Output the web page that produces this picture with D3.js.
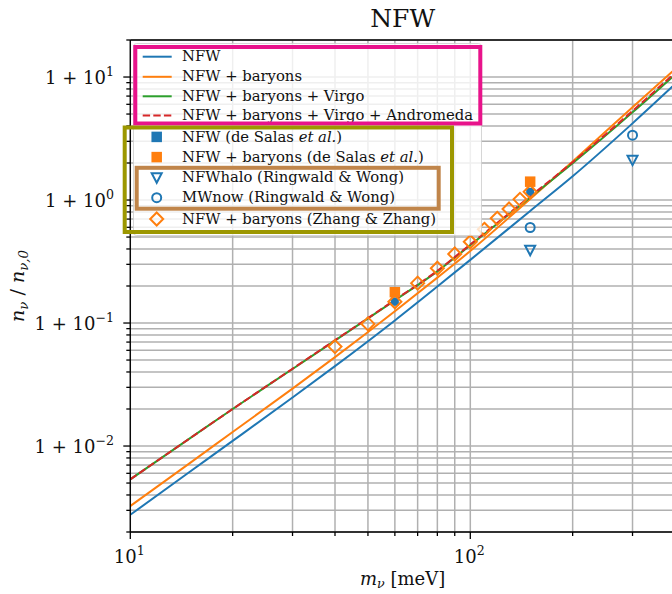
<!DOCTYPE html>
<html><head><meta charset="utf-8">
<script src="https://cdn.jsdelivr.net/npm/d3@7"></script>
<style>body{margin:0;background:#fff}svg{display:block}</style>
</head><body>
<svg id="c" width="672" height="594"></svg>
<script>
// ---------------- data ----------------
const xDomain = [10, 400];
const yDomain = [0.002, 20];
const massGrid = [10, 15, 20, 30, 40, 60, 80, 100, 150, 200, 300, 400];
const nfw = [0.00276, 0.0062, 0.0110, 0.0248, 0.0446, 0.105, 0.198, 0.326, 0.815, 1.56, 4.2, 8.75];
const nfwBaryons = [0.00325, 0.0073, 0.0130, 0.0293, 0.0528, 0.1246, 0.234, 0.385, 1.02, 2.06, 5.68, 11.6];
const nfwVirgo = [0.00536, 0.0116, 0.0200, 0.0423, 0.072, 0.153, 0.263, 0.43, 1.05, 1.99, 5.16, 10.45];
const nfwVirgoAndromeda = [0.00536, 0.0116, 0.0200, 0.0425, 0.0725, 0.154, 0.266, 0.435, 1.07, 2.03, 5.3, 10.8];

const deSalasMass = [60, 150];
const deSalasNFW = [0.149, 1.168];
const deSalasBaryons = [0.178, 1.41];
const ringwaldMass = [150, 300];
const ringwaldNFWhalo = [0.39, 2.11];
const ringwaldMWnow = [0.598, 3.37];
const zhangMass = [40, 50, 60, 70, 80, 90, 100, 110, 120, 130, 140, 150];
const zhangBaryons = [0.0643, 0.0984, 0.149, 0.211, 0.279, 0.364, 0.458, 0.578, 0.710, 0.845, 1.013, 1.168];

const xTickExponents = [1, 2];
const yTickExponents = [-2, -1, 0, 1];
const legendLabels = [
  ["NFW"], ["NFW + baryons"], ["NFW + baryons + Virgo"], ["NFW + baryons + Virgo + Andromeda"],
  ["NFW (de Salas ", "et al.", ")"], ["NFW + baryons (de Salas ", "et al.", ")"],
  ["NFWhalo (Ringwald & Wong)"], ["MWnow (Ringwald & Wong)"], ["NFW + baryons (Zhang & Zhang)"]
];
const title = "NFW";

// ---------------- layout ----------------
const C = {blue:"#1f77b4", orange:"#ff7f0e", green:"#2ca02c", red:"#d62728"};
const FONT = "'DejaVu Serif','Liberation Serif',serif";
const L = 130.3, T = 40, B = 532;
const R = L + 340 * Math.log10(xDomain[1] / xDomain[0]);
const svg = d3.select("#c");
const x = d3.scaleLog().domain(xDomain).range([L, R]);
const y = d3.scaleLog().domain(yDomain).range([B, T]);

// grid
const xt = x.ticks(), yt = y.ticks();
const grid = svg.append("g").attr("stroke", "#b0b0b0").attr("stroke-width", 1.5);
xt.forEach(v => grid.append("line").attr("x1", x(v)).attr("x2", x(v)).attr("y1", T).attr("y2", B));
yt.forEach(v => grid.append("line").attr("x1", L).attr("x2", R).attr("y1", y(v)).attr("y2", y(v)));

// clip
svg.append("clipPath").attr("id", "clip").append("rect").attr("x", L).attr("y", T).attr("width", R - L).attr("height", B - T);
const plot = svg.append("g").attr("clip-path", "url(#clip)");

const line = d3.line().x(d => x(d[0])).y(d => y(d[1])).curve(d3.curveMonotoneX);
const series = [
  {v: nfw, c: C.blue}, {v: nfwBaryons, c: C.orange},
  {v: nfwVirgo, c: C.green}, {v: nfwVirgoAndromeda, c: C.red, dash: "7.4,3.2"}
];
series.forEach(s => {
  plot.append("path").datum(massGrid.map((m, i) => [m, s.v[i]]))
    .attr("d", line).attr("fill", "none").attr("stroke", s.c).attr("stroke-width", 2)
    .attr("stroke-dasharray", s.dash || null);
});

// marker helpers
function square(g, cx, cy, s, col) {
  g.append("rect").attr("x", cx - s / 2).attr("y", cy - s / 2).attr("width", s).attr("height", s).attr("fill", col);
}
function tri(g, cx, cy, col) {
  g.append("path").attr("d", `M${cx},${cy + 5} L${cx - 5},${cy - 4.5} L${cx + 5},${cy - 4.5} Z`)
    .attr("fill", "none").attr("stroke", col).attr("stroke-width", 2);
}
function circ(g, cx, cy, col) {
  g.append("circle").attr("cx", cx).attr("cy", cy).attr("r", 4.5).attr("fill", "none").attr("stroke", col).attr("stroke-width", 2);
}
function diamond(g, cx, cy, col) {
  const h = 6.5;
  g.append("path").attr("d", `M${cx},${cy - h} L${cx + h},${cy} L${cx},${cy + h} L${cx - h},${cy} Z`)
    .attr("fill", "none").attr("stroke", col).attr("stroke-width", 2);
}
deSalasMass.forEach((m, i) => square(plot, x(m), y(deSalasBaryons[i]), 10.5, C.orange));
deSalasMass.forEach((m, i) => square(plot, x(m), y(deSalasNFW[i]), 8, C.blue));
zhangMass.forEach((m, i) => diamond(plot, x(m), y(zhangBaryons[i]), C.orange));
ringwaldMass.forEach((m, i) => tri(plot, x(m), y(ringwaldNFWhalo[i]), C.blue));
ringwaldMass.forEach((m, i) => circ(plot, x(m), y(ringwaldMWnow[i]), C.blue));

// spines
const ax = svg.append("g").attr("stroke", "#000").attr("stroke-width", 1.3);
ax.append("line").attr("x1", L).attr("x2", L).attr("y1", T).attr("y2", B);
ax.append("line").attr("x1", L).attr("x2", R).attr("y1", B).attr("y2", B);
ax.append("line").attr("x1", L).attr("x2", R).attr("y1", T).attr("y2", T);
ax.append("line").attr("x1", R).attr("x2", R).attr("y1", T).attr("y2", B);

const isMajor = v => Math.abs(Math.log10(v) - Math.round(Math.log10(v))) < 1e-9;
xt.forEach(v => { const len = isMajor(v) ? 7 : 4;
  ax.append("line").attr("x1", x(v)).attr("x2", x(v)).attr("y1", B).attr("y2", B + len); });
yt.forEach(v => { const len = isMajor(v) ? 7 : 4;
  ax.append("line").attr("x1", L).attr("x2", L - len).attr("y1", y(v)).attr("y2", y(v)); });

// tick labels
xTickExponents.forEach(e => {
  const t = svg.append("text").attr("x", x(Math.pow(10, e)) - 1).attr("y", 563).attr("text-anchor", "middle")
    .attr("font-family", FONT).attr("font-size", 18).attr("fill", "#111");
  t.append("tspan").text("10");
  t.append("tspan").attr("dy", -8).attr("font-size", 12.6).text(String(e).replace("-", "\u2212"));
});
yTickExponents.forEach(e => {
  const t = svg.append("text").attr("x", 114).attr("y", y(Math.pow(10, e)) + 7).attr("text-anchor", "end")
    .attr("font-family", FONT).attr("font-size", 18).attr("fill", "#111");
  t.append("tspan").text("1 + 10");
  t.append("tspan").attr("dy", -8).attr("font-size", 12.6).text(String(e).replace("-", "\u2212"));
});

// axis labels
const xl = svg.append("text").attr("x", (L + R) / 2).attr("y", 585).attr("text-anchor", "middle")
  .attr("font-family", FONT).attr("font-size", 18).attr("fill", "#111");
xl.append("tspan").attr("font-style", "italic").text("m");
xl.append("tspan").attr("font-style", "italic").attr("font-size", 12.6).attr("dy", 3).text("\u03bd");
xl.append("tspan").attr("dy", -3).text(" [meV]");

const yl = svg.append("text").attr("transform", `translate(24,${(T + B) / 2}) rotate(-90)`).attr("text-anchor", "middle")
  .attr("font-family", FONT).attr("font-size", 19).attr("fill", "#111");
yl.append("tspan").attr("font-style", "italic").text("n");
yl.append("tspan").attr("font-style", "italic").attr("font-size", 13.3).attr("dy", 4).text("\u03bd");
yl.append("tspan").attr("dy", -4).text(" / ");
yl.append("tspan").attr("font-style", "italic").text("n");
yl.append("tspan").attr("font-style", "italic").attr("font-size", 13.3).attr("dy", 4).text("\u03bd,0");

// title
svg.append("text").attr("x", (L + R) / 2).attr("y", 27).attr("text-anchor", "middle")
  .attr("font-family", FONT).attr("font-size", 25).attr("fill", "#111").text(title);

// legend
const lg = svg.append("g");
lg.append("rect").attr("x", 133.5).attr("y", 43.5).attr("width", 348).attr("height", 192).attr("rx", 3)
  .attr("fill", "#fff").attr("fill-opacity", 0.8).attr("stroke", "#ccc").attr("stroke-opacity", 0.8);
const rowYs = [56.7, 76.8, 96.3, 115.6, 136.9, 157.1, 177.8, 197.7, 219.0];
series.forEach((s, i) => {
  lg.append("line").attr("x1", 142.7).attr("x2", 171.7).attr("y1", rowYs[i]).attr("y2", rowYs[i])
    .attr("stroke", s.c).attr("stroke-width", 2).attr("stroke-dasharray", s.dash || null);
});
square(lg, 156.7, rowYs[4], 10.5, C.blue);
square(lg, 156.7, rowYs[5], 10.5, C.orange);
tri(lg, 156.7, rowYs[6], C.blue);
circ(lg, 156.7, rowYs[7], C.blue);
diamond(lg, 156.7, rowYs[8], C.orange);
legendLabels.forEach((parts, i) => {
  const t = lg.append("text").attr("x", 182).attr("y", rowYs[i] + 4.6).attr("font-family", FONT)
    .attr("font-size", 14.8).attr("fill", "#111");
  parts.forEach((p, j) => t.append("tspan").attr("font-style", j === 1 ? "italic" : null).text(p));
});

// highlight boxes
const boxes = [
  {x0: 135.3, x1: 480.3, y0: 47, y1: 123.5, c: "#e8138b"},
  {x0: 124.7, x1: 452, y0: 127.5, y1: 232, c: "#9c9700"},
  {x0: 136.7, x1: 438.7, y0: 167.8, y1: 208.7, c: "#c0854a"}
];
boxes.forEach(b => svg.append("rect").attr("x", b.x0).attr("y", b.y0).attr("width", b.x1 - b.x0)
  .attr("height", b.y1 - b.y0).attr("fill", "none").attr("stroke", b.c).attr("stroke-width", 4));
</script>
</body></html>
